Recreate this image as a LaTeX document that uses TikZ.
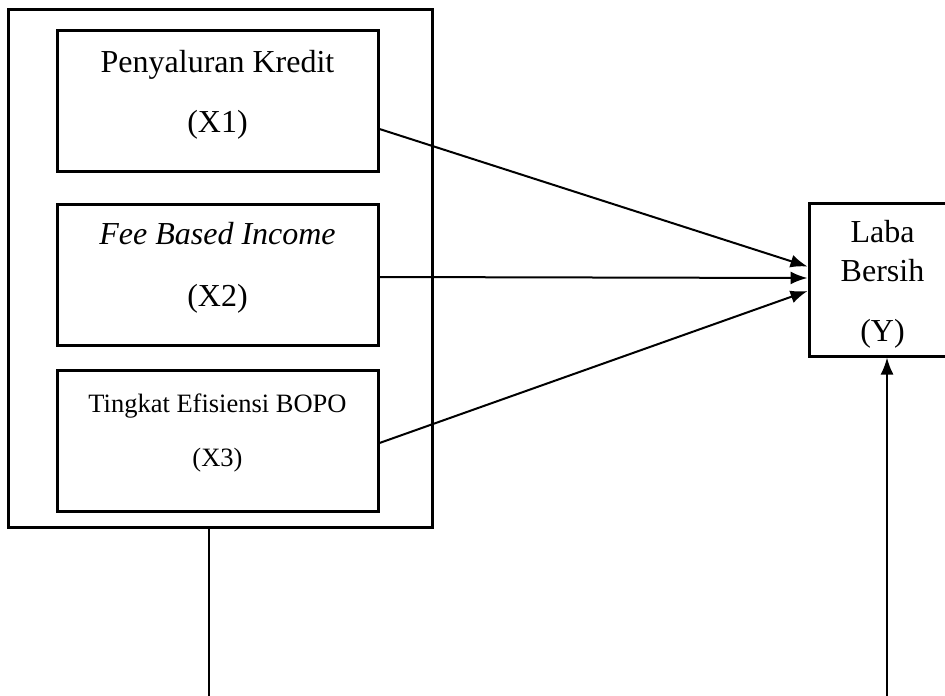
\documentclass[tikz,border=0pt]{standalone}
\usepackage{fontspec}
\setmainfont{Liberation Serif}
\usetikzlibrary{arrows.meta}

\begin{document}
\begin{tikzpicture}[x=0.5pt,y=-0.5pt,
        varbox/.style={draw,line width=1.5pt,minimum width=160.5pt,minimum height=70.5pt,inner sep=0pt},
        vartext/.style={align=center,font=\fontsize{16}{19.2}\selectfont,inner sep=0pt},
        link/.style={line width=1pt,-{Latex[length=8.5pt,width=6.5pt]}}]
        \clip (0,0) rectangle (945,695);

        % Draw the frame and the variable boxes
        \node[draw,line width=1.5pt,minimum width=212pt,minimum height=258.5pt,inner sep=0pt] (frame) at (220,268.5) {};
        \node[varbox] (x1) at (217.5,101) {};
        \node[varbox] (x2) at (217.5,274.5) {};
        \node[varbox] (x3) at (217.5,440.5) {};
        \node[draw,line width=1.5pt,minimum width=73.5pt,minimum height=76.5pt,inner sep=0pt] (y) at (882.5,279.5) {};

        % Add the texts
        \node[vartext] (x1text) at (217.5,95) {Penyaluran Kredit\\[10.8pt](X1)};
        \node[vartext] (x2text) at (217.5,268) {\textit{Fee Based Income}\\[11.8pt](X2)};
        \node[vartext,font=\fontsize{13.25}{15.9}\selectfont] (x3text) at (217.5,433) {Tingkat Efisiensi BOPO\\[10.9pt](X3)};
        \node[vartext] (ytext) at (882.5,284.5) {Laba\\Bersih\\[10.8pt](Y)};

        % Draw the arrows
        \coordinate (framefoot) at (209,700);
        \coordinate (arrowfoot) at (887,700);
        \draw[link] ([yshift=-14pt]x1.east) -- ([yshift=6.5pt]y.west);
        \draw[link] ([yshift=-1.25pt]x2.east) -- ([yshift=0.75pt]y.west);
        \draw[link] ([yshift=-1.25pt]x3.east) -- ([yshift=-5.75pt]y.west);
        \draw[line width=1pt] (frame.south -| framefoot) -- (framefoot);
        \draw[link] (arrowfoot) -- (arrowfoot |- y.south);
    \end{tikzpicture}
\end{document}
